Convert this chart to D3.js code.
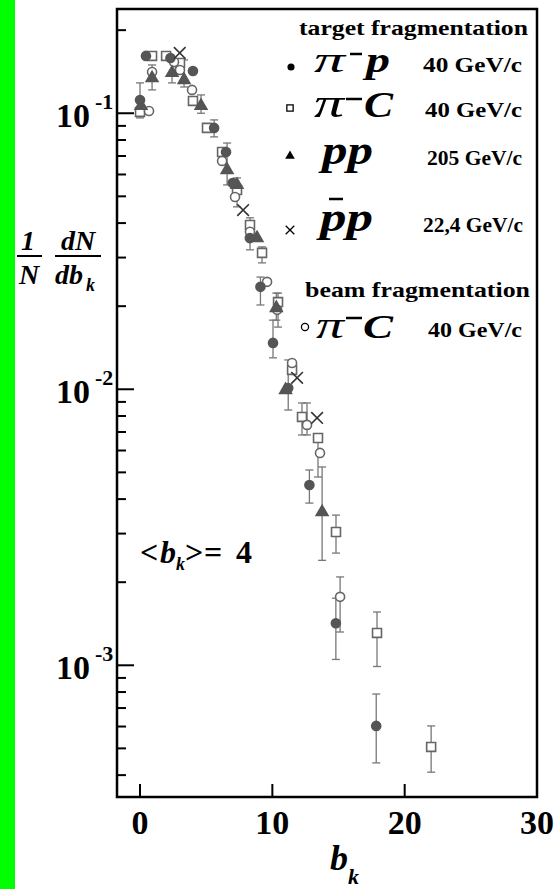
<!DOCTYPE html>
<html><head><meta charset="utf-8">
<script src="https://cdn.jsdelivr.net/npm/d3@7"></script>
<style>html,body{margin:0;padding:0;background:#fff;}svg{display:block}</style>
</head><body>
<svg id="c" width="560" height="889"></svg>
<script>
// ---- tick definitions ----
const xTicks = [0, 10, 20, 30];
const yMajorTicks = [0.1, 0.01, 0.001];
const yMajorExp = ["-1", "-2", "-3"];

// ---- series: pi- p 40 GeV/c (target, filled circle) ----
const piP_b  = [0, 0.45, 2.3, 4.0, 5.6, 6.5, 7.0, 8.3, 9.1, 10.05, 11.2, 12.8, 14.8, 17.85];
const piP_v  = [0.1117, 0.1613, 0.1586, 0.1422, 0.0885, 0.0724, 0.0559, 0.0353, 0.0235, 0.01472, 0.0101, 0.0045, 0.00142, 0.000603];
const piP_lo = [0.0962, null, null, null, 0.0821, null, null, null, 0.0202, 0.0130, 0.00841, 0.00387, 0.00105, 0.000443];
const piP_hi = [0.1288, null, null, null, 0.0946, null, null, null, 0.0255, 0.0178, 0.01277, 0.0051, 0.00175, 0.000787];

// ---- series: pi- C 40 GeV/c (target, open square) ----
const piC_b  = [0, 0.91, 1.97, 3.02, 4.0, 5.06, 6.2, 7.33, 8.31, 9.22, 10.43, 11.49, 12.24, 13.45, 14.81, 17.91, 22.0];
const piC_v  = [0.1011, 0.1613, 0.1613, 0.1521, 0.1108, 0.0885, 0.0724, 0.0527, 0.0394, 0.0312, 0.0207, 0.01175, 0.00794, 0.00666, 0.00304, 0.00131, 0.000506];
const piC_lo = [null, null, null, null, null, null, null, 0.0458, 0.0320, 0.0287, 0.0168, null, 0.00683, 0.00481, 0.00255, 0.00099, 0.00041];
const piC_hi = [null, null, null, null, null, null, null, 0.0583, 0.0418, 0.0328, 0.0223, null, 0.00892, 0.00672, 0.0035, 0.00156, 0.000603];

// ---- series: p p 205 GeV/c (filled triangle) ----
const pp_b  = [0.08, 0.91, 2.42, 3.33, 4.61, 6.58, 7.33, 8.84, 10.3, 11.0, 13.76];
const pp_v  = [0.1063, 0.1341, 0.140, 0.132, 0.1063, 0.0623, 0.055, 0.0353, 0.0197, 0.00994, 0.00359];
const pp_lo = [null, 0.1215, 0.1288, 0.1245, 0.100, 0.055, null, null, 0.0178, null, 0.0024];
const pp_hi = [null, 0.1496, 0.1534, 0.156, 0.1165, 0.078, null, null, 0.0223, null, 0.00523];

// ---- series: pbar p 22.4 GeV/c (cross) ----
const ppb_b = [3.0, 7.79, 11.87, 13.38];
const ppb_v = [0.1654, 0.0446, 0.0110, 0.00787];

// ---- series: pi- C 40 GeV/c (beam, open circle) ----
const beam_b  = [0.68, 0.91, 2.57, 3.02, 3.93, 6.2, 7.18, 8.31, 9.6, 10.36, 11.49, 12.62, 13.6, 15.12];
const beam_v  = [0.1019, 0.1411, 0.1534, 0.1435, 0.1215, 0.0672, 0.0497, 0.0372, 0.0245, 0.0194, 0.01245, 0.00743, 0.00588, 0.00177];
const beam_lo = [null, null, null, null, null, null, null, null, null, null, null, 0.00683, null, 0.00132];
const beam_hi = [null, null, null, null, null, null, null, null, null, null, null, 0.00892, null, 0.00209];

const svg = d3.select("#c");
const SERIF = "'Liberation Serif','Times New Roman',serif";
const fr = {l: 117, r: 537, t: 9, b: 797};

svg.append("rect").attr("x", 0).attr("y", 0).attr("width", 560).attr("height", 889).attr("fill", "#fff");
svg.append("rect").attr("x", 0).attr("y", 0).attr("width", 15).attr("height", 889).attr("fill", "#00ff00");

const x = d3.scaleLinear().domain([-1.74, 30]).range([fr.l, fr.r]);
const y = d3.scaleLog().domain([3.333e-4, 0.2386]).range([fr.b, fr.t]);

function mk(bs, vs, lo, hi) {
  return bs.map((b, i) => ({b, v: vs[i], lo: lo ? lo[i] : null, hi: hi ? hi[i] : null}));
}
const series = [
  {data: mk(piC_b, piC_v, piC_lo, piC_hi), type: d3.symbolSquare, size: 80, fill: "#fff", stroke: "#666"},
  {data: mk(beam_b, beam_v, beam_lo, beam_hi), type: d3.symbolCircle, size: 64, fill: "#fff", stroke: "#666"},
  {data: mk(pp_b, pp_v, pp_lo, pp_hi), type: d3.symbolTriangle, size: 60, fill: "#555", stroke: "#555"},
  {data: mk(piP_b, piP_v, piP_lo, piP_hi), type: d3.symbolCircle, size: 64, fill: "#555", stroke: "#555"},
  {data: mk(ppb_b, ppb_v, null, null), type: d3.symbolX, size: 90, fill: "none", stroke: "#333"}
];

// error bars
const eg = svg.append("g").attr("stroke", "#777").attr("stroke-width", 1.3).attr("fill", "none");
series.forEach(s => {
  s.data.filter(d => d.lo != null).forEach(d => {
    const cx = x(d.b);
    eg.append("line").attr("x1", cx).attr("x2", cx).attr("y1", y(d.hi)).attr("y2", y(d.lo));
    eg.append("line").attr("x1", cx - 4).attr("x2", cx + 4).attr("y1", y(d.hi)).attr("y2", y(d.hi));
    eg.append("line").attr("x1", cx - 4).attr("x2", cx + 4).attr("y1", y(d.lo)).attr("y2", y(d.lo));
  });
});
// markers
series.forEach(s => {
  svg.append("g").selectAll("path").data(s.data).join("path")
    .attr("transform", d => `translate(${x(d.b)},${y(d.v)})`)
    .attr("d", d3.symbol().type(s.type).size(s.size))
    .attr("fill", s.fill).attr("stroke", s.stroke).attr("stroke-width", 1.6);
});

// frame
svg.append("rect").attr("x", fr.l).attr("y", fr.t).attr("width", fr.r - fr.l).attr("height", fr.b - fr.t)
  .attr("fill", "none").attr("stroke", "#000").attr("stroke-width", 2.5);

// y ticks (inward)
const minor = [];
for (let e = -4; e <= -1; e++) for (let m = 2; m <= 9; m++) {
  const v = m * Math.pow(10, e);
  if (v > y.domain()[0] && v < y.domain()[1]) minor.push(v);
}
const tg = svg.append("g").attr("stroke", "#000").attr("stroke-width", 2);
minor.forEach(v => tg.append("line").attr("x1", fr.l).attr("x2", fr.l + 9).attr("y1", y(v)).attr("y2", y(v)));
yMajorTicks.forEach(v => tg.append("line").attr("x1", fr.l).attr("x2", fr.l + 17).attr("y1", y(v)).attr("y2", y(v)));
xTicks.slice(0, 3).forEach(t => tg.append("line").attr("x1", x(t)).attr("x2", x(t)).attr("y1", fr.b).attr("y2", fr.b - 13));

// y tick labels
yMajorTicks.forEach((v, i) => {
  const t = svg.append("text").attr("font-family", SERIF).attr("font-weight", "bold").attr("fill", "#000");
  t.append("tspan").attr("x", 56).attr("y", y(v) + 14).attr("font-size", 34).text("10");
  t.append("tspan").attr("x", 95).attr("y", y(v) - 4).attr("font-size", 22).text(yMajorExp[i]);
});
// x tick labels
xTicks.forEach(t => {
  svg.append("text").attr("x", x(t)).attr("y", 834).attr("text-anchor", "middle")
    .attr("font-family", SERIF).attr("font-weight", "bold").attr("font-size", 34).text(t);
});
// x title
svg.append("text").attr("x", 330).attr("y", 870).attr("font-family", SERIF).attr("font-weight", "bold")
  .attr("font-style", "italic").attr("font-size", 36).text("b");
svg.append("text").attr("x", 348).attr("y", 884).attr("font-family", SERIF).attr("font-weight", "bold")
  .attr("font-style", "italic").attr("font-size", 22).text("k");

// y title: (1/N)(dN/db_k)
const yt = svg.append("g").attr("font-family", SERIF).attr("font-weight", "bold").attr("font-style", "italic").attr("fill", "#000");
yt.append("text").attr("x", 28).attr("y", 250).attr("text-anchor", "middle").attr("font-size", 28).text("1");
yt.append("text").attr("x", 29).attr("y", 284).attr("text-anchor", "middle").attr("font-size", 28).text("N");
yt.append("line").attr("x1", 17).attr("x2", 42).attr("y1", 256).attr("y2", 256).attr("stroke", "#000").attr("stroke-width", 2);
yt.append("text").attr("x", 78).attr("y", 250).attr("text-anchor", "middle").attr("font-size", 28).text("dN");
yt.append("line").attr("x1", 55).attr("x2", 101).attr("y1", 256).attr("y2", 256).attr("stroke", "#000").attr("stroke-width", 2);
yt.append("text").attr("x", 55).attr("y", 284).attr("font-size", 28).text("db");
yt.append("text").attr("x", 86).attr("y", 291).attr("font-size", 18).text("k");

// <b_k> = 4
const bk = svg.append("g").attr("font-family", SERIF).attr("font-weight", "bold").attr("fill", "#000");
bk.append("text").attr("x", 140).attr("y", 563).attr("font-size", 32).text("<");
bk.append("text").attr("x", 160).attr("y", 563).attr("font-size", 32).attr("font-style", "italic").text("b");
bk.append("text").attr("x", 176).attr("y", 570).attr("font-size", 18).attr("font-style", "italic").text("k");
bk.append("text").attr("x", 185).attr("y", 563).attr("font-size", 32).text(">");
bk.append("text").attr("x", 204).attr("y", 563).attr("font-size", 32).text("=");
bk.append("text").attr("x", 236).attr("y", 563).attr("font-size", 32).text("4");

// ---- legend ----
const lg = svg.append("g").attr("font-family", SERIF).attr("fill", "#000");
function lt(txt, x0, yb, size, len, opts = {}) {
  const t = lg.append("text").attr("x", x0).attr("y", yb).attr("font-size", size)
    .attr("font-weight", opts.weight || "bold").attr("font-style", opts.style || "normal").text(txt);
  if (len) t.attr("textLength", len).attr("lengthAdjust", "spacingAndGlyphs");
  return t;
}
function bar(x1, x2, yy) {
  lg.append("line").attr("x1", x1).attr("x2", x2).attr("y1", yy).attr("y2", yy).attr("stroke", "#000").attr("stroke-width", 2.5);
}
lt("target fragmentation", 299, 35, 21, 229);
// pi- p
lg.append("path").attr("transform", "translate(291,67)").attr("d", d3.symbol().type(d3.symbolCircle).size(40)).attr("fill", "#000");
lt("π", 314, 72, 36, 31, {weight: "normal", style: "italic"});
bar(350, 362, 54);
lt("p", 366, 72, 36, 24, {style: "italic"});
lt("40 GeV/c", 423, 72, 20, 99);
// pi- C
lg.append("path").attr("transform", "translate(290,108)").attr("d", d3.symbol().type(d3.symbolSquare).size(40)).attr("fill", "#fff").attr("stroke", "#000").attr("stroke-width", 1.3);
lt("π", 314, 117, 40, 30, {weight: "normal", style: "italic"});
bar(346, 362, 99);
lt("C", 364, 117, 36, 29, {style: "italic"});
lt("40 GeV/c", 425, 117, 20, 97);
// p p
lg.append("path").attr("transform", "translate(290,156)").attr("d", d3.symbol().type(d3.symbolTriangle).size(40)).attr("fill", "#000");
lt("pp", 322, 164, 42, 51, {style: "italic"});
lt("205 GeV/c", 427, 165, 20, 95);
// pbar p
lg.append("path").attr("transform", "translate(290,230)").attr("d", d3.symbol().type(d3.symbolX).size(50)).attr("fill", "none").attr("stroke", "#000").attr("stroke-width", 1.3);
lt("pp", 320, 231, 42, 53, {style: "italic"});
bar(329, 343, 199);
lt("22,4 GeV/c", 423, 232, 20, 100);
// beam
lt("beam fragmentation", 305, 297, 21, 225);
lg.append("path").attr("transform", "translate(305,327)").attr("d", d3.symbol().type(d3.symbolCircle).size(40)).attr("fill", "#fff").attr("stroke", "#000").attr("stroke-width", 1.3);
lt("π", 316, 338, 38, 28, {weight: "normal", style: "italic"});
bar(346, 362, 318);
lt("C", 363, 338, 34, 30, {style: "italic"});
lt("40 GeV/c", 428, 337, 20, 94);
</script>
</body></html>
